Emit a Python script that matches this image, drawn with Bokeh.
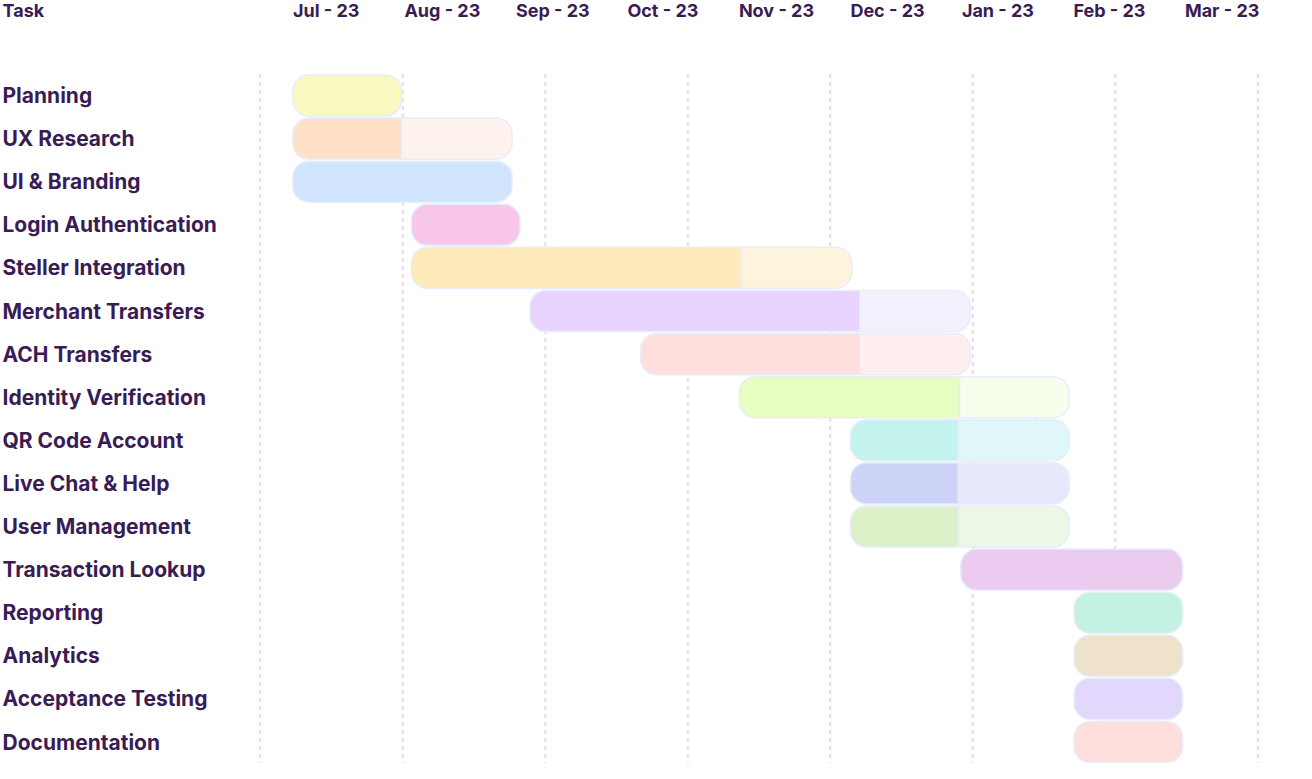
from bokeh.plotting import figure
from bokeh.models import Range1d, ColumnDataSource
from bokeh.core.properties import value
from bokeh.embed import file_html
from bokeh.resources import INLINE

# ---------------- data ----------------
tasks = ["Planning", "UX Research", "UI & Branding", "Login Authentication",
         "Steller Integration", "Merchant Transfers", "ACH Transfers",
         "Identity Verification", "QR Code Account", "Live Chat & Help",
         "User Management", "Transaction Lookup", "Reporting", "Analytics",
         "Acceptance Testing", "Documentation"]
months = ["Jul - 23", "Aug - 23", "Sep - 23", "Oct - 23", "Nov - 23",
          "Dec - 23", "Jan - 23", "Feb - 23", "Mar - 23"]
# time in months, 0 = start of Jul
starts = [0.0, 0.0, 0.0, 1.063, 1.063, 2.126, 3.118, 4.003, 5.0, 5.0, 5.0,
          5.99, 7.006, 7.006, 7.006, 7.006]
ends = [0.974, 1.966, 1.966, 2.037, 5.013, 6.076, 6.076, 6.962, 6.962, 6.962,
        6.962, 7.98, 7.98, 7.98, 7.98, 7.98]
# end of the completed part (None = no split)
progress = [None, 0.974, None, None, 4.021, 5.084, 5.084, 5.979, 5.97, 5.97,
            5.97, None, None, None, None, None]
done_colors = ["#F9F9BF", "#FEE1C7", "#D0E4FE", "#F7C6E8", "#FEEABB",
               "#E8D2FE", "#FEDFDD", "#E8FDC0", "#C4F2EC", "#CED4F7",
               "#DDF1C9", "#EBCBF0", "#C4F2E2", "#EEE2CC", "#E2D8FE",
               "#FEDFDD"]
rest_colors = [None, "#FEF2EF", None, None, "#FEF3DC", "#F5F0FE", "#FEEEEE",
               "#F7FEEC", "#DFF7F6", "#E6E8FC", "#EDF7E5", None, None, None,
               None, None]
today = 6.67

# ---------------- layout constants ----------------
W, H = 1296, 763
X0, PX = 292.4, 111.5     # pixel of month 0, pixels per month
Y0, PY = 95.0, 43.1       # pixel of row 0 centre, pixels per row
BAR_H = 0.954
RAD = 16
GRID_START, GRID_STEP, GRID_N = -0.292, 1.278, 8
GRID_TOP = 73.5
HEAD_Y = 9.5
TXT = "#3A1C55"
FONT = value("Inter")

def mx(px):
    return (px - X0) / PX

def ry(py):
    return (py - Y0) / PY

p = figure(width=W, height=H, output_backend="svg", toolbar_location=None,
           x_range=Range1d(mx(0), mx(W)), y_range=Range1d(ry(H), ry(0)),
           min_border=0, outline_line_color=None, background_fill_color="white",
           border_fill_color="white")
p.axis.visible = False
p.grid.visible = False

# dashed grid
gx = [GRID_START + GRID_STEP * k for k in range(GRID_N)]
p.segment(x0=gx, x1=gx, y0=[ry(GRID_TOP)] * GRID_N, y1=[ry(H)] * GRID_N,
          line_color="#E6D8FB", line_width=2, line_dash="4 4")
p.segment(x0=[today], x1=[today], y0=[7.23], y1=[8.55],
          line_color="#DCDCEE", line_width=2, line_dash="4 4")

rows = list(range(len(tasks)))
full = dict(l=[], r=[], t=[], b=[], c=[])
left = dict(l=[], r=[], t=[], b=[], c=[])
right = dict(l=[], r=[], t=[], b=[], c=[])
for i in rows:
    t, b = i - BAR_H / 2, i + BAR_H / 2
    if progress[i] is None:
        for k, v in zip("lrtbc", [starts[i], ends[i], t, b, done_colors[i]]):
            full[k].append(v)
    else:
        for k, v in zip("lrtbc", [starts[i], progress[i], t, b, done_colors[i]]):
            left[k].append(v)
        for k, v in zip("lrtbc", [progress[i], ends[i], t, b, rest_colors[i]]):
            right[k].append(v)

OUT = "#E8EDFB"
for d, rad in [(full, RAD), (left, (RAD, 0, 0, RAD)), (right, (0, RAD, RAD, 0))]:
    src = ColumnDataSource(d)
    p.quad(left="l", right="r", top="t", bottom="b", fill_color="c",
           line_color=OUT, line_width=1.5, border_radius=rad, source=src)

# task labels
p.text(x=[mx(2)] * len(tasks), y=rows, text=tasks, text_font=FONT,
       text_font_style="bold", text_font_size="21px", text_color=TXT,
       text_align="left", text_baseline="middle")
# header
p.text(x=[mx(2)], y=[ry(HEAD_Y)], text=["Task"], text_font=FONT,
       text_font_style="bold", text_font_size="18px", text_color=TXT,
       text_align="left", text_baseline="middle")
p.text(x=list(range(len(months))), y=[ry(HEAD_Y)] * len(months), text=months,
       text_font=FONT, text_font_style="bold", text_font_size="18px",
       text_color=TXT, text_align="left", text_baseline="middle")

open("out.html", "w").write(file_html(p, INLINE))
